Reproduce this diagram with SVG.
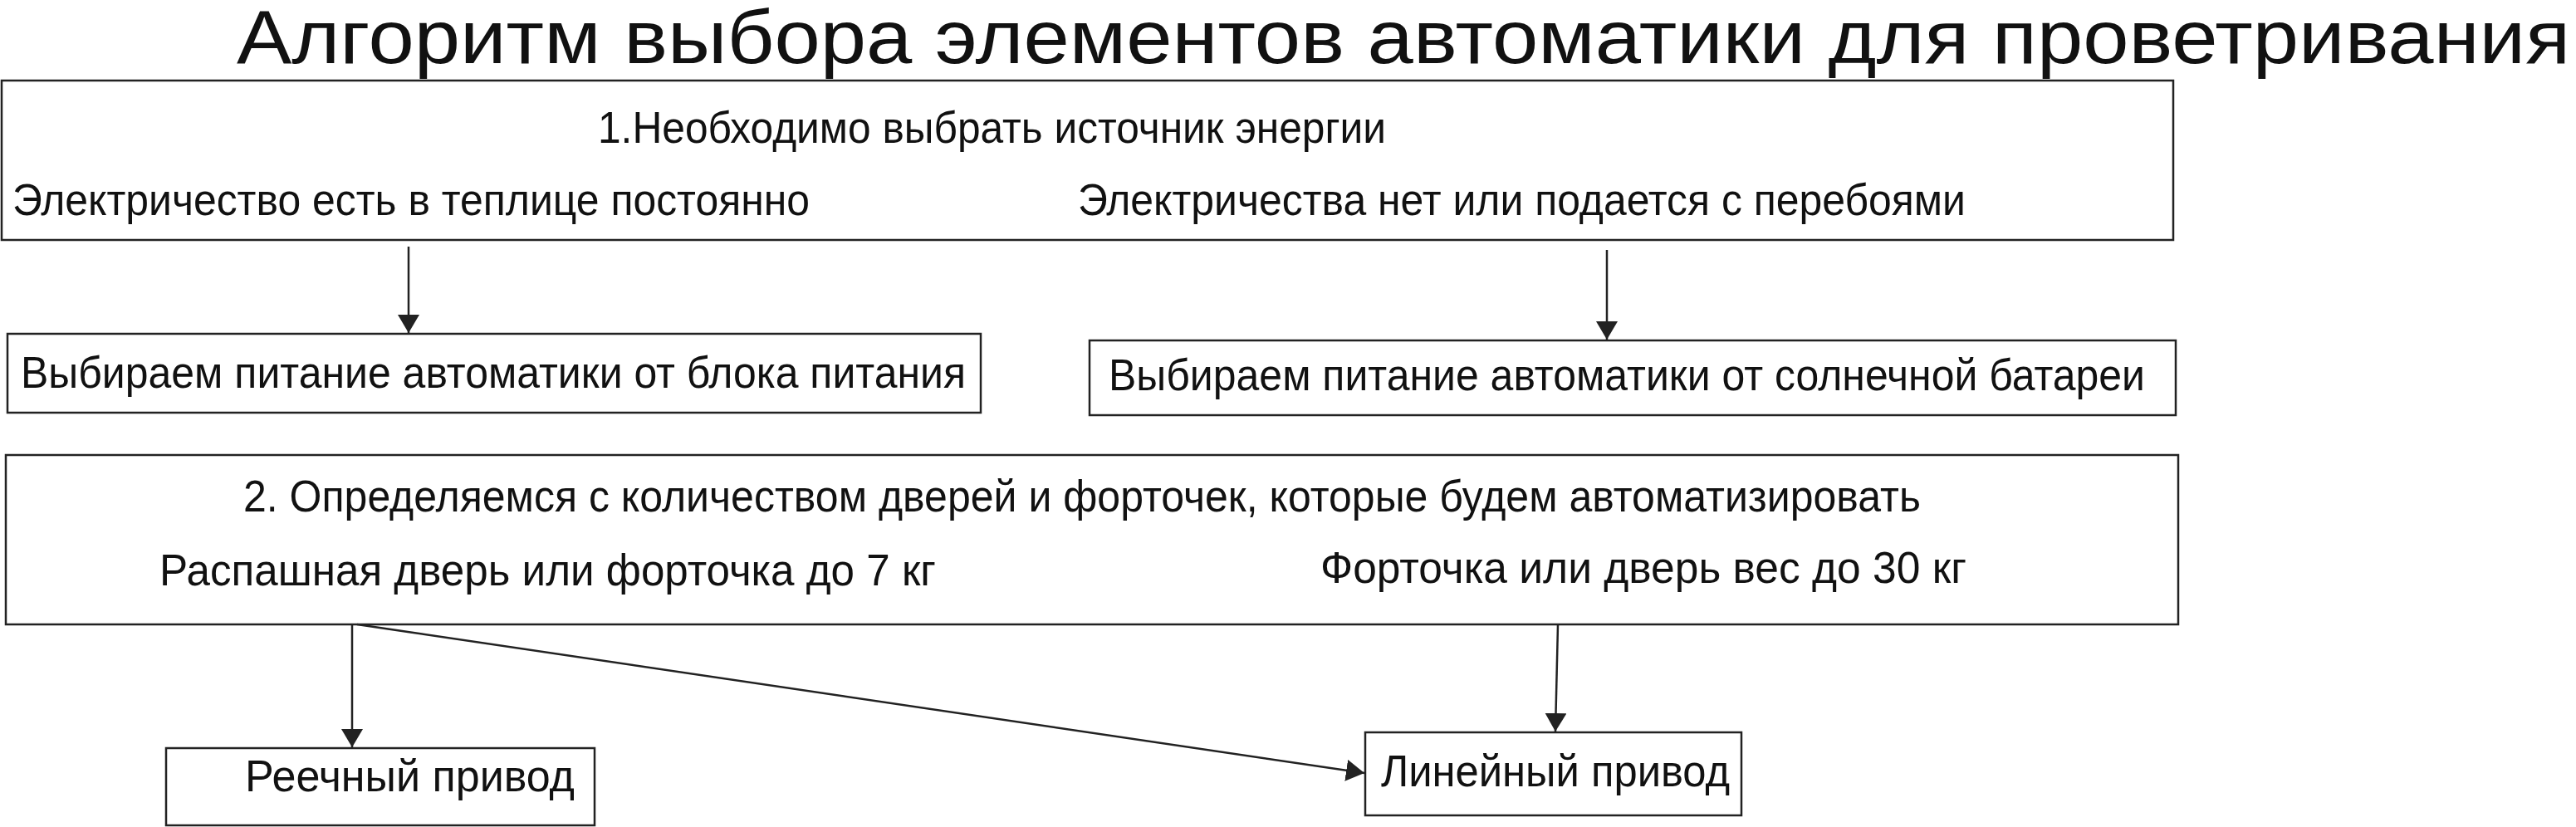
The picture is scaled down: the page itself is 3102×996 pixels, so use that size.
<svg xmlns="http://www.w3.org/2000/svg" width="3102" height="996" viewBox="0 0 3102 996">
<style>
.n rect{fill:#fff;stroke:#222;stroke-width:2.5}
text{font-family:"Liberation Sans",Arial,sans-serif;fill:#111;font-size:54px}
.c line{stroke:#222;stroke-width:2.5}
</style>
<defs>
<marker id="b" markerWidth="22" markerHeight="26" refX="22" refY="13" orient="auto" markerUnits="userSpaceOnUse" viewBox="0 0 22 26"><path d="M0,0L22,13L0,26Z" fill="#222"/></marker></defs>
<rect width="3102" height="996" fill="#fff"/>
<text x="285" y="76" style="font-size:90px" textLength="2810" lengthAdjust="spacingAndGlyphs">Алгоритм выбора элементов автоматики для проветривания</text>
<g id="n1" class="n"><rect x="2" y="97" width="2615" height="192"/>
<text x="720" y="172" textLength="949" lengthAdjust="spacingAndGlyphs">1.Необходимо выбрать источник энергии</text>
<text x="15" y="259" textLength="960" lengthAdjust="spacingAndGlyphs">Электричество есть в теплице постоянно</text>
<text x="1298" y="259" textLength="1069" lengthAdjust="spacingAndGlyphs">Электричества нет или подается с перебоями</text></g>
<g id="n2" class="n"><rect x="9" y="402" width="1172" height="95"/>
<text x="25" y="467" textLength="1138" lengthAdjust="spacingAndGlyphs">Выбираем питание автоматики от блока питания</text></g>
<g id="n3" class="n"><rect x="1312" y="410" width="1308" height="90"/>
<text x="1335" y="470" textLength="1248" lengthAdjust="spacingAndGlyphs">Выбираем питание автоматики от солнечной батареи</text></g>
<g id="n4" class="n"><rect x="7" y="548" width="2616" height="204"/>
<text x="293" y="616" textLength="2020" lengthAdjust="spacingAndGlyphs">2. Определяемся с количеством дверей и форточек, которые будем автоматизировать</text>
<text x="192" y="705" textLength="935" lengthAdjust="spacingAndGlyphs">Распашная дверь или форточка до 7 кг</text>
<text x="1590" y="702" textLength="778" lengthAdjust="spacingAndGlyphs">Форточка или дверь вес до 30 кг</text></g>
<g id="n5" class="n"><rect x="200" y="901" width="516" height="93"/>
<text x="295" y="953" textLength="397" lengthAdjust="spacingAndGlyphs">Реечный  привод</text></g>
<g id="n6" class="n"><rect x="1644" y="882" width="453" height="100"/>
<text x="1663" y="947" textLength="420" lengthAdjust="spacingAndGlyphs">Линейный привод</text></g>
<g class="c" id="connectors">
<line x1="492" y1="297" x2="492" y2="401" marker-end="url(#b)"/>
<line x1="1935" y1="301" x2="1935" y2="409" marker-end="url(#b)"/>
<line x1="424" y1="752" x2="424" y2="900" marker-end="url(#b)"/>
<line x1="430" y1="752" x2="1643" y2="931" marker-end="url(#b)"/>
<line x1="1876" y1="752" x2="1873" y2="881" marker-end="url(#b)"/>
</g>
</svg>
